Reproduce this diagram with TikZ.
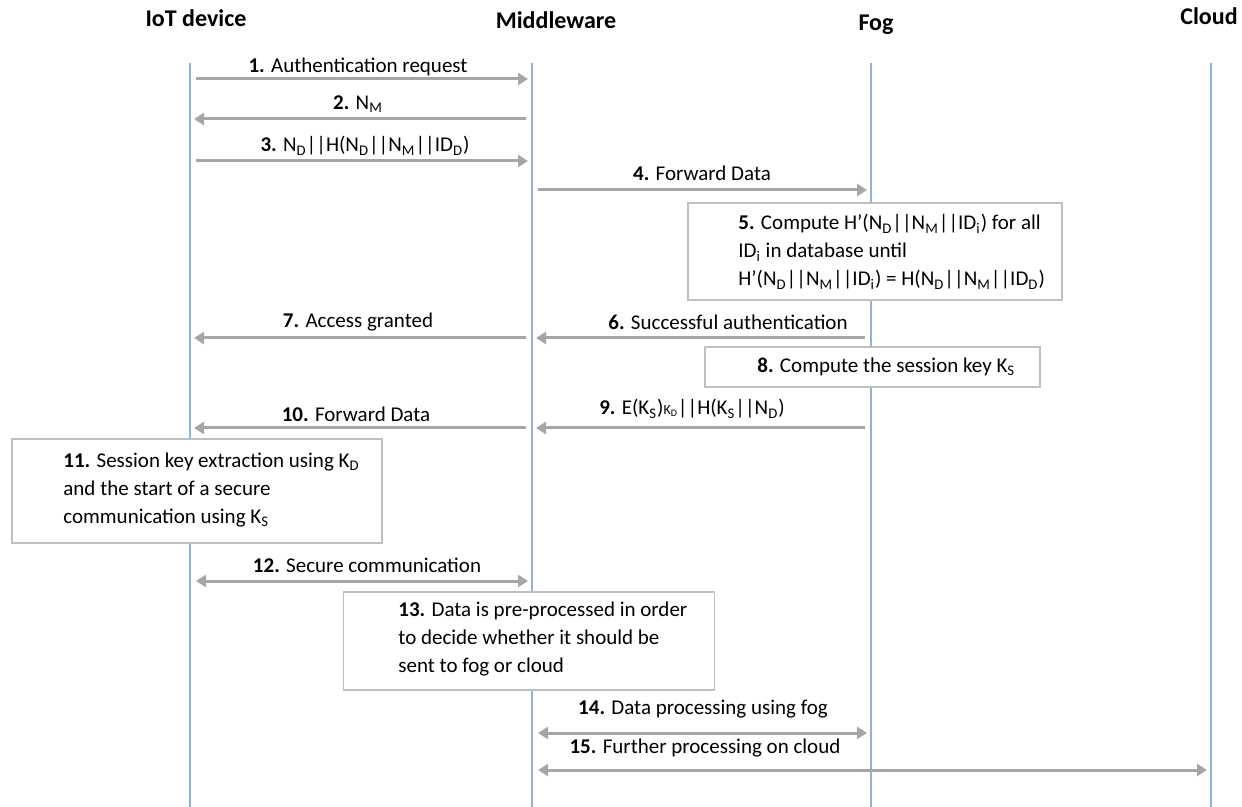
\documentclass[tikz,border=0pt]{standalone}
\usepackage{fontspec}
\setmainfont{Carlito}
\usetikzlibrary{arrows.meta,positioning}
\definecolor{lifeblue}{RGB}{140,180,222}
\definecolor{msggray}{RGB}{166,166,166}
\definecolor{boxgray}{RGB}{191,191,191}
\tikzset{
    actor/.style={font=\fontsize{12}{14}\selectfont\bfseries,inner sep=0pt},
    life/.style={lifeblue,line width=0.8pt},
    msg/.style={msggray,line width=1.5pt,shorten <=3pt,shorten >=2pt,
                -{Triangle[length=5pt,width=6pt]}},
    twoway/.style={msg,{Triangle[length=5pt,width=6pt]}-{Triangle[length=5pt,width=6pt]}},
    lbl/.style={font=\fontsize{10.5}{14}\selectfont,inner sep=0pt},
    boxtext/.style={lbl,align=left,anchor=west},
    stepbox/.style={draw=boxgray,line width=0.6pt,fill=white,inner sep=0pt}
}
\begin{document}
\begin{tikzpicture}[x=0.5pt,y=-0.5pt]
                    \useasboundingbox (0,0) rectangle (1242,807);
                    % actors and lifelines
                    \node[actor] (iot) at (196,18) {IoT device};
                    \node[actor] (mid) at (556,20) {Middleware};
                    \node[actor] (fog) at (876,25) {Fog};
                    \node[actor] (cloud) at (1209,16) {Cloud};
                    \coordinate (iotL) at (190,63);
                    \coordinate (midL) at (532,63);
                    \coordinate (fogL) at (871,63);
                    \coordinate (cloudL) at (1211,63);
                    \foreach \l in {iotL,midL,fogL,cloudL}
                        \draw[life] (\l) -- (\l |- 0,807);
                    % messages
                    \draw[msg] (iotL |- 0,79) -- (midL |- 0,79);
                    \node[lbl] (l1) at (358,67) {\textbf{1.} Authentication request};
                    \draw[msg] (midL |- 0,119) -- (iotL |- 0,119);
                    \node[lbl] (l2) at (358,104) {\textbf{2.} N\textsubscript{M}};
                    \draw[msg] (iotL |- 0,161) -- (midL |- 0,161);
                    \node[lbl] (l3) at (365,146) {\textbf{3.} N\textsubscript{D}||H(N\textsubscript{D}||N\textsubscript{M}||ID\textsubscript{D})};
                    \draw[msg] (midL |- 0,190) -- (fogL |- 0,190);
                    \node[lbl] (l4) at (702,173) {\textbf{4.} Forward Data};
                    \node[stepbox,minimum width=187pt,minimum height=48.5pt] (b5) at (875,251.5) {};
                    \node[boxtext] (t5) at (738,252) {\textbf{5.} Compute H’(N\textsubscript{D}||N\textsubscript{M}||ID\textsubscript{i}) for all\\
                        ID\textsubscript{i} in database until\\
                        H’(N\textsubscript{D}||N\textsubscript{M}||ID\textsubscript{i}) = H(N\textsubscript{D}||N\textsubscript{M}||ID\textsubscript{D})};
                    \draw[msg] (fogL |- 0,338) -- (midL |- 0,338);
                    \node[lbl] (l6) at (728,322) {\textbf{6.} Successful authentication};
                    \draw[msg] (midL |- 0,338) -- (iotL |- 0,338);
                    \node[lbl] (l7) at (358,322) {\textbf{7.} Access granted};
                    \node[stepbox,minimum width=167.5pt,minimum height=20pt] (b8) at (872.5,367) {};
                    \node[boxtext] (t8) at (757,367) {\textbf{8.} Compute the session key K\textsubscript{S}};
                    \draw[msg] (fogL |- 0,428) -- (midL |- 0,428);
                    \node[lbl] (l9) at (692,409) {\textbf{9.} E(K\textsubscript{S}){\fontsize{7}{7}\selectfont K\textsubscript{D}}||H(K\textsubscript{S}||N\textsubscript{D})};
                    \draw[msg] (midL |- 0,428) -- (iotL |- 0,428);
                    \node[lbl] (l10) at (356,414) {\textbf{10.} Forward Data};
                    \node[stepbox,minimum width=185pt,minimum height=52pt] (b11) at (197,491) {};
                    \node[boxtext] (t11) at (63,490) {\textbf{11.} Session key extraction using K\textsubscript{D}\\
                        and the start of a secure\\
                        communication using K\textsubscript{S}};
                    \draw[twoway] (iotL |- 0,581) -- (midL |- 0,581);
                    \node[lbl] (l12) at (367,565) {\textbf{12.} Secure communication};
                    \node[stepbox,minimum width=185.5pt,minimum height=49pt] (b13) at (529,641) {};
                    \node[boxtext] (t13) at (398,639) {\textbf{13.} Data is pre-processed in order\\
                        to decide whether it should be\\
                        sent to fog or cloud};
                    \draw[twoway] (midL |- 0,733) -- (fogL |- 0,733);
                    \node[lbl] (l14) at (703,709) {\textbf{14.} Data processing using fog};
                    \draw[twoway] (midL |- 0,770) -- (cloudL |- 0,770);
                    \node[lbl] (l15) at (705,748) {\textbf{15.} Further processing on cloud};
                \end{tikzpicture}
\end{document}
